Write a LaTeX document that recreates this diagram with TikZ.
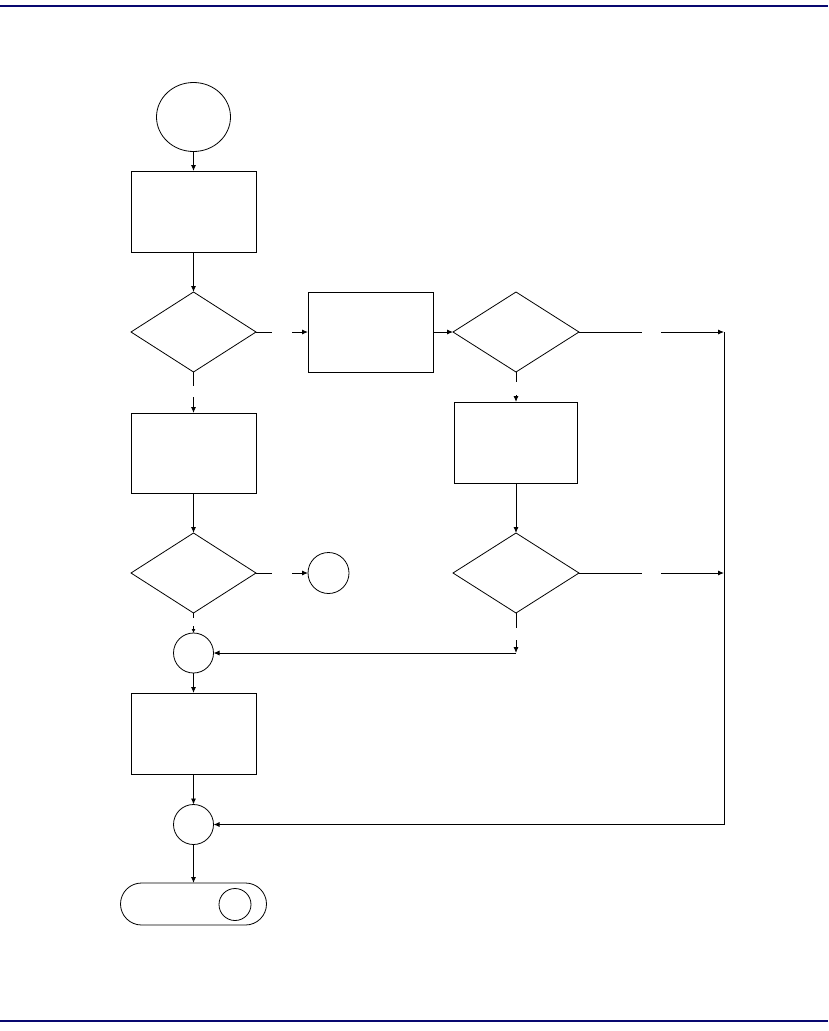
\documentclass[tikz,border=0pt]{standalone}
\usetikzlibrary{shapes.geometric,shapes.misc,arrows.meta}
\definecolor{navyline}{RGB}{8,8,112}
\begin{document}
\begin{tikzpicture}[x=1pt,y=-1pt,
  every node/.style={draw, line width=0.8pt, inner sep=0pt, outer sep=0pt},
  proc/.style={rectangle, minimum width=125pt, minimum height=81pt},
  dec/.style={diamond, minimum width=125pt, minimum height=80pt},
  conn/.style={circle, minimum size=41pt},
  link/.style={line width=0.9pt},
  arr/.style={link, -{Latex[length=6pt,width=5pt]}}
]
\useasboundingbox (0,0) rectangle (828,1031);
\fill[navyline] (0,5) rectangle (828,7);
\fill[navyline] (0,1020) rectangle (828,1022);

\node[ellipse, minimum width=74pt, minimum height=69pt] (start) at (193.5,117) {};
\node[proc] (b1) at (193.5,211.5) {};
\node[dec] (d1) at (193.5,332) {};
\node[proc, minimum height=80pt] (b2) at (370.5,332) {};
\node[dec, minimum width=126pt] (d2) at (516,332) {};
\node[proc, minimum height=80pt] (b3) at (193.5,453) {};
\node[proc, minimum width=123pt] (b4) at (516,442.5) {};
\node[dec] (d3) at (193.5,573) {};
\node[conn] (c2) at (328.5,573) {};
\node[dec, minimum width=126pt] (d4) at (516,573) {};
\node[conn, minimum size=40pt] (c3) at (193.5,653) {};
\node[proc] (b5) at (193.5,733.5) {};
\node[conn, minimum size=40pt] (c4) at (193.5,824.5) {};
\node[rounded rectangle, minimum width=146pt, minimum height=42pt] (term) at (193.5,904) {};
\node[circle, minimum size=32pt] (tin) at (235,904.5) {};

\coordinate (g1a) at (272,332);  \coordinate (g1b) at (292,332);
\coordinate (g2a) at (193.5,386); \coordinate (g2b) at (193.5,397);
\coordinate (g3a) at (642,332);  \coordinate (g3b) at (661,332);
\coordinate (g4a) at (516,382);  \coordinate (g4b) at (516,395);
\coordinate (g5a) at (272,573);  \coordinate (g5b) at (292,573);
\coordinate (g6a) at (193.5,618); \coordinate (g6b) at (193.5,626);
\coordinate (g7a) at (642,573);  \coordinate (g7b) at (661,573);
\coordinate (g8a) at (516,628);  \coordinate (g8b) at (516,640);
\coordinate (j1) at (516,653);
\coordinate (r1) at (724,332);
\coordinate (r2) at (724,573);
\coordinate (r3) at (724,824.5);

\draw[arr] (start.south) -- (b1.north);
\draw[arr] (b1.south) -- (d1.north);
\draw[link] (d1.east) -- (g1a);
\draw[arr] (g1b) -- (b2.west);
\draw[link] (d1.south) -- (g2a);
\draw[arr] (g2b) -- (b3.north);
\draw[arr] (b2.east) -- (d2.west);
\draw[link] (d2.east) -- (g3a);
\draw[arr] (g3b) -- (r1);
\draw[link] (d2.south) -- (g4a);
\draw[arr] (g4b) -- (b4.north);
\draw[arr] (b4.south) -- (d4.north);
\draw[arr] (b3.south) -- (d3.north);
\draw[link] (d3.east) -- (g5a);
\draw[arr] (g5b) -- (c2.west);
\draw[link] (d3.south) -- (g6a);
\draw[link, -{Latex[length=4pt,width=4pt]}] (g6b) -- (c3.north);
\draw[link] (d4.east) -- (g7a);
\draw[arr] (g7b) -- (r2);
\draw[link] (d4.south) -- (g8a);
\draw[arr] (g8b) -- (j1);
\draw[arr] (j1) -- (c3.east);
\draw[arr] (c3.south) -- (b5.north);
\draw[arr] (b5.south) -- (c4.north);
\draw[link] (r1) -- (r3);
\draw[arr] (r3) -- (c4.east);
\draw[arr] (c4.south) -- (term.north);
\end{tikzpicture}
\end{document}
